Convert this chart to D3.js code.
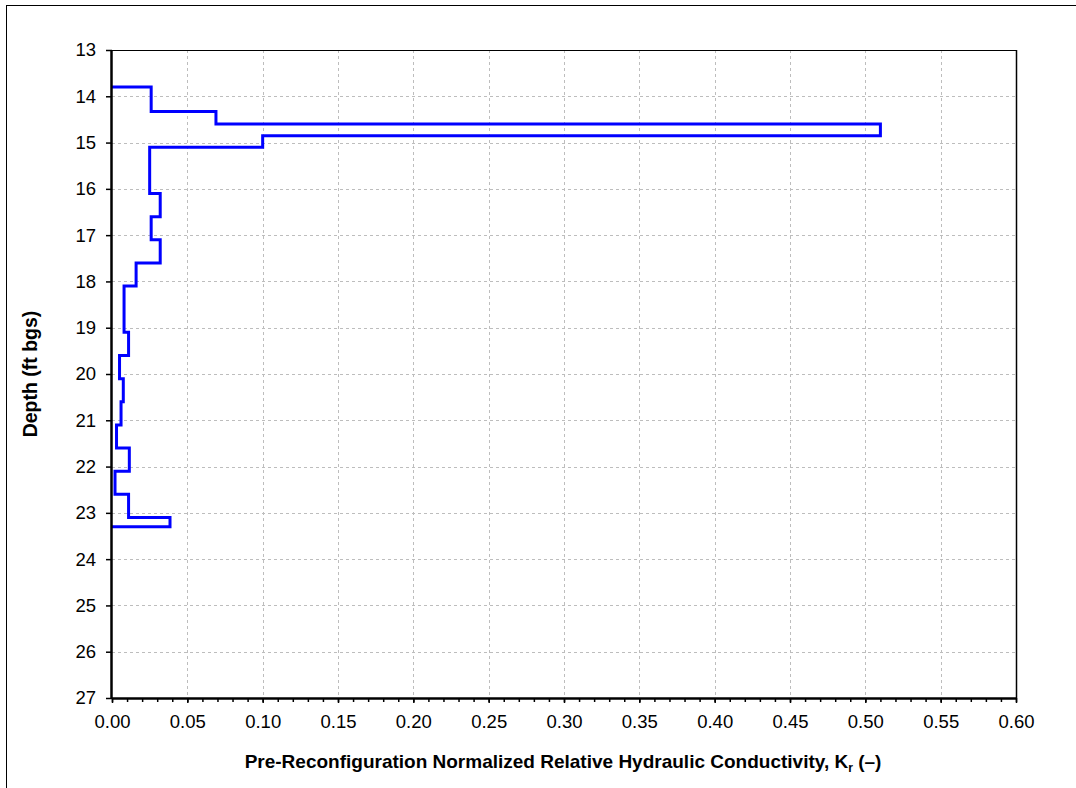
<!DOCTYPE html>
<html>
<head>
<meta charset="utf-8">
<script src="https://cdn.jsdelivr.net/npm/d3@7"></script>
<style>
  html, body { margin: 0; padding: 0; background: #fff; }
  svg { display: block; font-family: Arial, "Liberation Sans", sans-serif; }
</style>
</head>
<body>
<svg id="chart" width="1076" height="788"></svg>
<script>
// Depth interval boundaries (ft bgs); each interval has one Kr value
const depthTops    = [13.8, 14.33, 14.6, 14.85, 15.1, 16.1, 16.6, 17.1, 17.6, 18.1, 19.1, 19.6, 20.1, 20.6, 21.1, 21.6, 22.1, 22.6, 23.1];
const depthBottoms = [14.33, 14.6, 14.85, 15.1, 16.1, 16.6, 17.1, 17.6, 18.1, 19.1, 19.6, 20.1, 20.6, 21.1, 21.6, 22.1, 22.6, 23.1, 23.3];
const krValues     = [0.026, 0.069, 0.51, 0.100, 0.025, 0.032, 0.026, 0.032, 0.016, 0.008, 0.011, 0.005, 0.0075, 0.006, 0.003, 0.0115, 0.002, 0.011, 0.0385];

const xTicks = [0, 0.05, 0.10, 0.15, 0.20, 0.25, 0.30, 0.35, 0.40, 0.45, 0.50, 0.55, 0.60];
const yTicks = [13, 14, 15, 16, 17, 18, 19, 20, 21, 22, 23, 24, 25, 26, 27];

const svg = d3.select("#chart");
const pL = 112, pR = 1016, pT = 50, pB = 698;

const x = d3.scaleLinear().domain([0, 0.6]).range([pL, pR]);
const y = d3.scaleLinear().domain([13, 27]).range([pT, pB]);

// outer frame
svg.append("rect")
  .attr("x", 6.5).attr("y", 5.5)
  .attr("width", 1100).attr("height", 900)
  .attr("fill", "none").attr("stroke", "#000").attr("stroke-width", 1);

// dashed grid
const grid = svg.append("g").attr("stroke", "#bdbdbd").attr("stroke-width", 1).attr("stroke-dasharray", "3,3");
grid.selectAll("line.v").data(xTicks.slice(1, -1)).join("line").attr("class", "v")
  .attr("x1", d => Math.round(x(d)) + 0.5).attr("x2", d => Math.round(x(d)) + 0.5)
  .attr("y1", pT).attr("y2", pB);
grid.selectAll("line.h").data(yTicks.slice(1, -1)).join("line").attr("class", "h")
  .attr("y1", d => Math.round(y(d)) + 0.5).attr("y2", d => Math.round(y(d)) + 0.5)
  .attr("x1", pL).attr("x2", pR);

// plot frame: thin top/right
svg.append("line").attr("x1", pL).attr("x2", pR).attr("y1", pT + 0.5).attr("y2", pT + 0.5)
  .attr("stroke", "#000").attr("stroke-width", 1);
svg.append("line").attr("x1", pR + 0.5).attr("x2", pR + 0.5).attr("y1", pT).attr("y2", pB)
  .attr("stroke", "#000").attr("stroke-width", 1.5);

// step profile of Kr with depth
const pts = [[0, depthTops[0]]];
krValues.forEach((v, i) => {
  pts.push([v, depthTops[i]]);
  pts.push([v, depthBottoms[i]]);
});
pts.push([0, depthBottoms[depthBottoms.length - 1]]);

svg.append("path")
  .datum(pts)
  .attr("fill", "none")
  .attr("stroke", "#0000ff")
  .attr("stroke-width", 3)
  .attr("stroke-linejoin", "miter")
  .attr("d", d3.line().x(d => x(d[0])).y(d => y(d[1])));

// axes
const xAxis = svg.append("g").attr("transform", `translate(0,${pB})`)
  .call(d3.axisBottom(x).tickValues(xTicks).tickFormat(d3.format(".2f")).tickSize(5).tickPadding(12));
const xMinor = d3.range(0, 61).map(i => i / 100);
svg.append("g").attr("transform", `translate(0,${pB})`)
  .call(d3.axisBottom(x).tickValues(xMinor).tickFormat("").tickSize(4))
  .call(g => g.select(".domain").remove())
  .selectAll("line").attr("stroke-width", 1.5);

const yAxis = svg.append("g").attr("transform", `translate(${pL},0)`)
  .call(d3.axisLeft(y).tickValues(yTicks).tickFormat(d3.format("d")).tickSize(6).tickPadding(10));

[xAxis, yAxis].forEach(g => {
  g.select(".domain").attr("stroke-width", 2.5);
  g.selectAll(".tick line").attr("stroke-width", 1.5);
  g.selectAll(".tick text").attr("font-size", 18.5).attr("fill", "#000")
    .attr("font-family", "Arial, 'Liberation Sans', sans-serif");
});
xAxis.select(".domain").attr("d", `M${pL},0.5H${pR + 1}`);
yAxis.select(".domain").attr("d", `M-0.5,${pT}V${pB + 1}`);

// axis titles
svg.append("text")
  .attr("transform", `translate(37,${(pT + pB) / 2}) rotate(-90)`)
  .attr("text-anchor", "middle")
  .attr("font-size", 19.5).attr("font-weight", "bold")
  .text("Depth (ft bgs)");

const xt = svg.append("text")
  .attr("x", 563).attr("y", 768)
  .attr("text-anchor", "middle")
  .attr("font-size", 19).attr("font-weight", "bold");
xt.append("tspan").text("Pre-Reconfiguration Normalized Relative Hydraulic Conductivity, K");
xt.append("tspan").attr("font-size", 12).attr("dy", 4).text("r");
xt.append("tspan").attr("dy", -4).text(" (–)");
</script>
</body>
</html>
